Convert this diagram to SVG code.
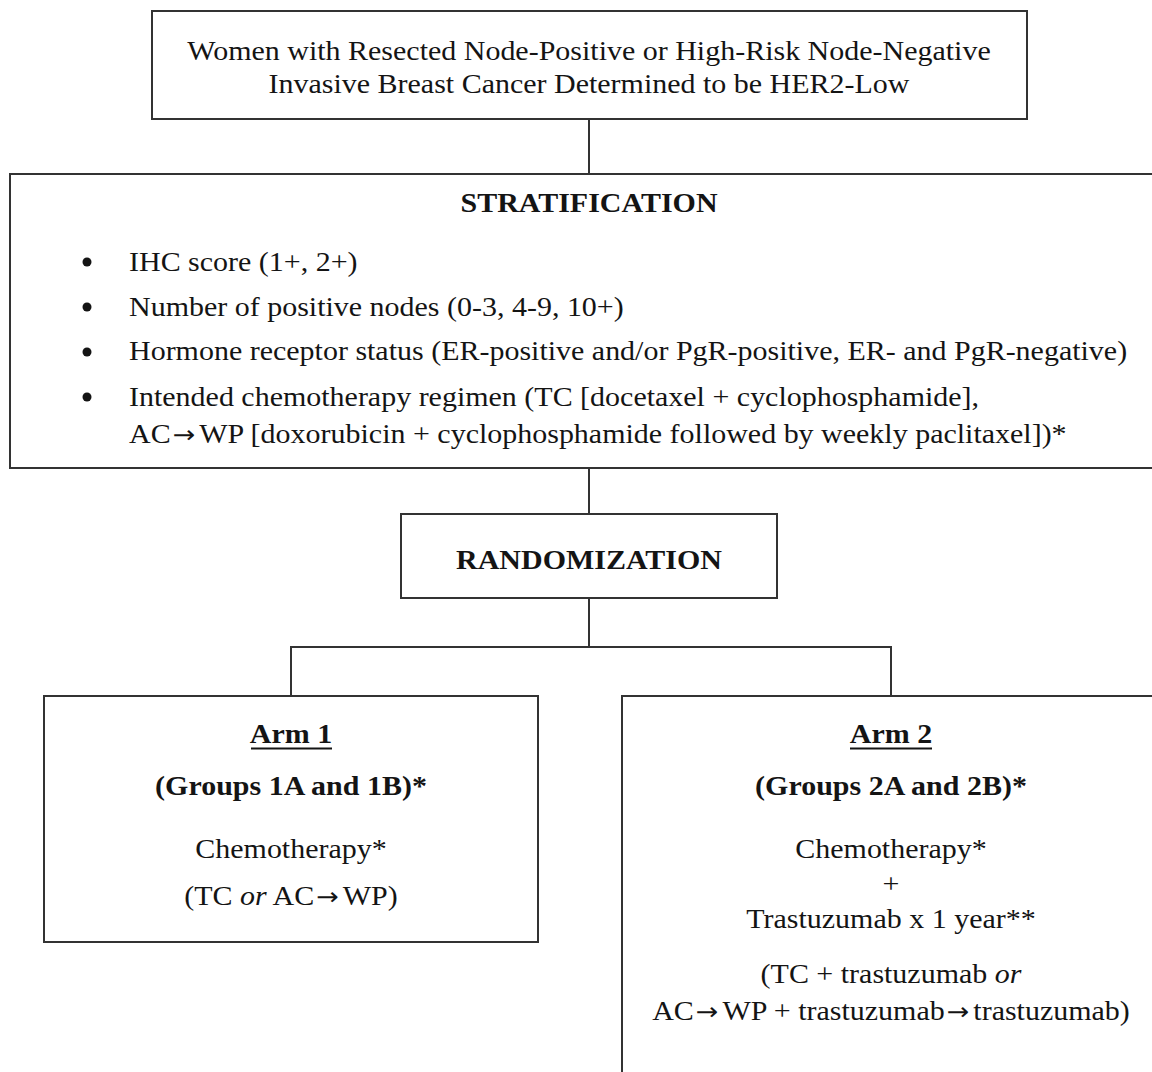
<svg xmlns="http://www.w3.org/2000/svg" width="1152" height="1072" viewBox="0 0 1152 1072">
<style>
.box{fill:#fff;stroke:#333;stroke-width:2}
.ln{fill:none;stroke:#333;stroke-width:2}
text{font-family:"Liberation Serif","Times New Roman",serif;font-size:30px;fill:#141414}
.c{text-anchor:middle}
.b{font-weight:bold}
.i{font-style:italic}
.ar{font-family:"DejaVu Sans",sans-serif;font-size:27px}
</style>
<rect width="1152" height="1072" fill="#fff"/>
<g id="connectors">
<line class="ln" x1="589" y1="120" x2="589" y2="174"/>
<line class="ln" x1="589" y1="468" x2="589" y2="514"/>
<line class="ln" x1="589" y1="598" x2="589" y2="647"/>
<polyline class="ln" points="291,696 291,647 891,647 891,696"/>
</g>
<g id="eligibility">
<rect class="box" x="152" y="11" width="875" height="108"/>
<text class="c" transform="translate(589,60) scale(1,0.9)">Women with Resected Node-Positive or High-Risk Node-Negative</text>
<text class="c" transform="translate(589,93) scale(1,0.9)">Invasive Breast Cancer Determined to be HER2-Low</text>
</g>
<g id="stratification">
<rect class="box" x="10" y="174" width="1200" height="294"/>
<text class="c b" transform="translate(589,212) scale(1,0.9)">STRATIFICATION</text>
<circle cx="87" cy="262" r="4.5" fill="#141414"/>
<circle cx="87" cy="307" r="4.5" fill="#141414"/>
<circle cx="87" cy="352" r="4.5" fill="#141414"/>
<circle cx="87" cy="397" r="4.5" fill="#141414"/>
<text transform="translate(129,271) scale(1,0.9)">IHC score (1+, 2+)</text>
<text transform="translate(129,316) scale(1,0.9)">Number of positive nodes (0-3, 4-9, 10+)</text>
<text transform="translate(129,360) scale(1,0.9)">Hormone receptor status (ER-positive and/or PgR-positive, ER- and PgR-negative)</text>
<text transform="translate(129,406) scale(1,0.9)">Intended chemotherapy regimen (TC [docetaxel + cyclophosphamide],</text>
<text transform="translate(129,443) scale(1,0.9)">AC<tspan class="ar" dx="2">→</tspan><tspan dx="4">WP [doxorubicin + cyclophosphamide followed by weekly paclitaxel])*</tspan></text>
</g>
<g id="randomization">
<rect class="box" x="401" y="514" width="376" height="84"/>
<text class="c b" transform="translate(589,569) scale(1,0.9)">RANDOMIZATION</text>
</g>
<g id="arm1">
<rect class="box" x="44" y="696" width="494" height="246"/>
<text class="c b" transform="translate(291,743) scale(1,0.9)">Arm 1</text>
<line x1="251" y1="748.5" x2="332" y2="748.5" stroke="#141414" stroke-width="2"/>
<text class="c b" transform="translate(291,795) scale(1,0.9)">(Groups 1A and 1B)*</text>
<text class="c" transform="translate(291,858) scale(1,0.9)">Chemotherapy*</text>
<text class="c" transform="translate(291,905) scale(1,0.9)">(TC <tspan class="i">or</tspan> AC<tspan class="ar" dx="2">→</tspan><tspan dx="4">WP)</tspan></text>
</g>
<g id="arm2">
<rect class="box" x="622" y="696" width="600" height="500"/>
<text class="c b" transform="translate(891,743) scale(1,0.9)">Arm 2</text>
<line x1="850" y1="748.5" x2="932" y2="748.5" stroke="#141414" stroke-width="2"/>
<text class="c b" transform="translate(891,795) scale(1,0.9)">(Groups 2A and 2B)*</text>
<text class="c" transform="translate(891,858) scale(1,0.9)">Chemotherapy*</text>
<text class="c" transform="translate(891,893) scale(1,0.9)">+</text>
<text class="c" transform="translate(891,928) scale(1,0.9)">Trastuzumab x 1 year**</text>
<text class="c" transform="translate(891,983) scale(1,0.9)">(TC + trastuzumab <tspan class="i">or</tspan></text>
<text class="c" transform="translate(891,1020) scale(1,0.9)">AC<tspan class="ar" dx="2">→</tspan><tspan dx="4">WP + trastuzumab</tspan><tspan class="ar" dx="2">→</tspan><tspan dx="4">trastuzumab)</tspan></text>
</g>
</svg>
